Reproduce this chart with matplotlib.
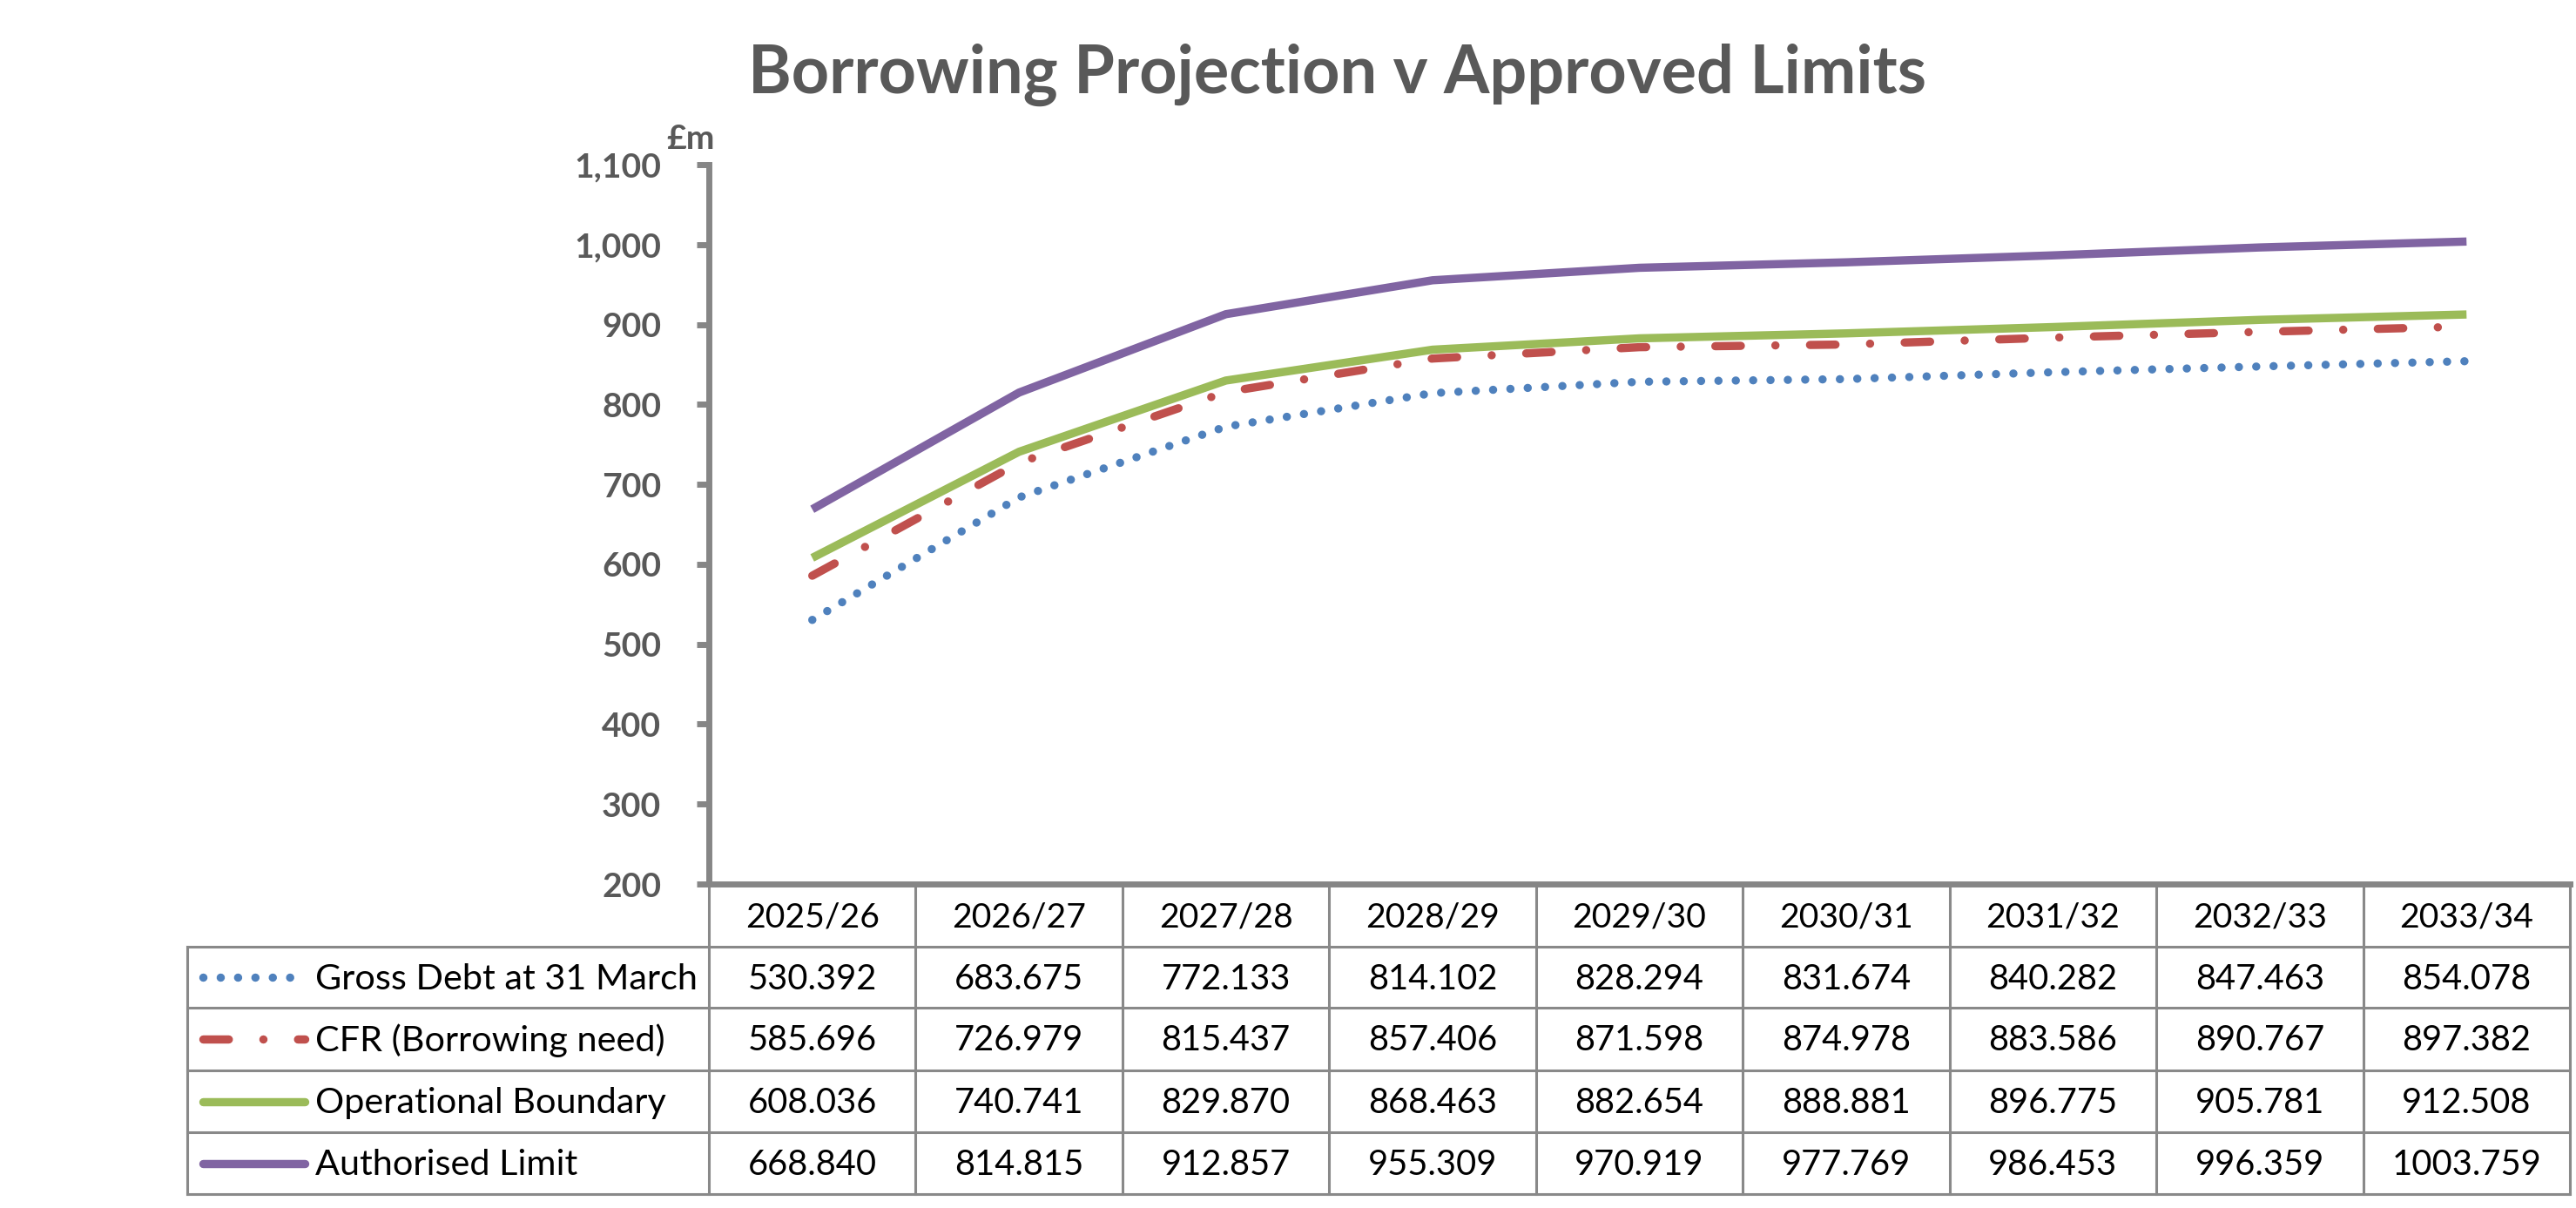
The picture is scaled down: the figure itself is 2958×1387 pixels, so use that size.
import numpy as np
import matplotlib
matplotlib.use('Agg')
import matplotlib.pyplot as plt
import matplotlib.transforms as mtransforms
from matplotlib.lines import Line2D

plt.rcParams['font.family'] = ['Lato', 'DejaVu Sans']

# data
years = ['2025/26', '2026/27', '2027/28', '2028/29', '2029/30',
         '2030/31', '2031/32', '2032/33', '2033/34']
gross_debt = [530.392, 683.675, 772.133, 814.102, 828.294, 831.674, 840.282, 847.463, 854.078]
cfr = [585.696, 726.979, 815.437, 857.406, 871.598, 874.978, 883.586, 890.767, 897.382]
op_boundary = [608.036, 740.741, 829.870, 868.463, 882.654, 888.881, 896.775, 905.781, 912.508]
auth_limit = [668.840, 814.815, 912.857, 955.309, 970.919, 977.769, 986.453, 996.359, 1003.759]
names = ['Gross Debt at 31 March', 'CFR (Borrowing need)', 'Operational Boundary', 'Authorised Limit']
y_ticks = list(range(200, 1101, 100))

styles = [
    dict(color='#4F81BD', lw=6.8, ls=(0, (0.01, 2.1)), dash_capstyle='round'),
    dict(color='#C0504D', lw=6.8, ls=(0, (3.1, 4.2, 0.01, 4.2)), dash_capstyle='round'),
    dict(color='#9BBB59', lw=6.8, ls='-', solid_capstyle='butt'),
    dict(color='#8064A2', lw=6.8, ls='-', solid_capstyle='butt'),
]
series = [gross_debt, cfr, op_boundary, auth_limit]

W, H = 2958, 1387
fig = plt.figure(figsize=(W / 100, H / 100), dpi=100)
renderer = fig.canvas.get_renderer()


def fit_size(s, target_w, weight='normal'):
    # font size that gives the text the width seen in the reference
    t = fig.text(0, 0, s, fontsize=100, fontweight=weight)
    w = t.get_window_extent(renderer).width
    t.remove()
    return 100 * target_w / w


title_fs = fit_size('Borrowing Projection v Approved Limits', 1352, 'bold')
tick_fs = fit_size('1,100', 100, 'bold')
label_fs = fit_size('Gross Debt at 31 March', 438)
num_fs = fit_size('530.392', 148)
head_fs = fit_size('2025/26', 154)

# plot area (pixels)
x0, x1 = 814, 2951
y_top, y_bot = 189, 1015
axis_col = '#868686'
text_col = '#595959'
grid_col = '#898989'

# overlay in pixel coords for table
tb = fig.add_axes([0, 0, 1, 1])
tb.set_xlim(0, W)
tb.set_ylim(H, 0)
tb.axis('off')

ax = fig.add_axes([x0 / W, 1 - y_bot / H, (x1 - x0) / W, (y_bot - y_top) / H])
ax.patch.set_visible(False)

xs = np.arange(len(years))
for vals, st in zip(series, styles):
    ax.plot(xs, vals, **st)

ax.set_xlim(-0.5, len(years) - 0.5)
ax.set_ylim(200, 1100)
ax.set_xticks([])
ax.set_yticks(y_ticks, labels=[f'{v:,}' for v in y_ticks], fontweight='bold')
ax.tick_params(axis='y', length=10, width=5, color=axis_col, pad=29.5,
               labelsize=tick_fs, labelcolor=text_col)
for s in ['top', 'right']:
    ax.spines[s].set_visible(False)
for s in ['left', 'bottom']:
    ax.spines[s].set_color(axis_col)
    ax.spines[s].set_linewidth(5)

fig.text(1535 / W, 1 - 107 / H, 'Borrowing Projection v Approved Limits',
         ha='center', va='baseline', fontsize=title_fs, fontweight='bold', color=text_col)
fig.text(793 / W, 1 - 171 / H, '£m', ha='center', va='baseline',
         fontsize=tick_fs, fontweight='bold', color=text_col)

# data table
blend = mtransforms.blended_transform_factory(ax.transData, tb.transData)
row_lines = [1087, 1157, 1229, 1300, 1371]
tab_left = 215
for y in row_lines:
    tb.add_line(Line2D([tab_left, x1], [y, y], color=grid_col, lw=2.2, clip_on=False))
tb.add_line(Line2D([tab_left, tab_left], [row_lines[0], row_lines[-1]],
                   color=grid_col, lw=2.2, clip_on=False))
for i in range(len(years) + 1):
    tb.add_line(Line2D([i - 0.5, i - 0.5], [y_bot, row_lines[-1]], color=grid_col,
                       lw=2.2, transform=blend, clip_on=False))

for i, yr in enumerate(years):
    tb.text(i, 1064, yr, transform=blend, ha='center', va='baseline',
            fontsize=head_fs, color='black')

for r, (name, vals, st) in enumerate(zip(names, series, styles)):
    yc = (row_lines[r] + row_lines[r + 1]) / 2
    sample = dict(st)
    sample['solid_capstyle'] = 'round'
    tb.add_line(Line2D([233, 350], [yc, yc], clip_on=False, **sample))
    tb.text(362, yc + 13.5, name, ha='left', va='baseline', fontsize=label_fs, color='black')
    for i, v in enumerate(vals):
        tb.text(i, yc + 13.5, f'{v:.3f}', transform=blend, ha='center', va='baseline',
                fontsize=num_fs, color='black')

fig.savefig('out.png', dpi=100)
